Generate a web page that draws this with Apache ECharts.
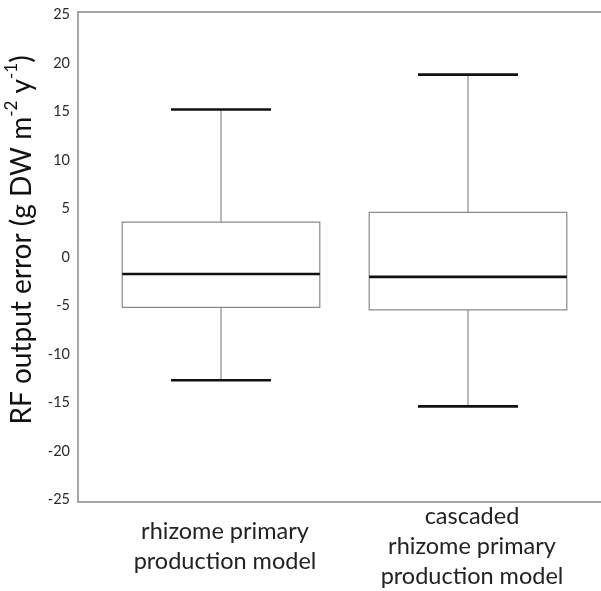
<!DOCTYPE html>
<html>
<head>
<meta charset="utf-8">
<script src="https://cdn.jsdelivr.net/npm/echarts@6/dist/echarts.min.js"></script>
<style>html,body{margin:0;padding:0;background:#fff}#c{width:601px;height:591px}</style>
</head>
<body>
<div id="c"></div>
<script>
const categories = ['rhizome primary\nproduction model', 'cascaded\nrhizome primary\nproduction model'];
const whiskerLow = [-12.7, -15.4];
const quartile1 = [-5.2, -5.45];
const medians = [-1.75, -2.05];
const quartile3 = [3.6, 4.6];
const whiskerHigh = [15.2, 18.8];
const yTicks = { min: -25, max: 25, interval: 5 };

const boxData = categories.map((c, i) => [i, whiskerLow[i], quartile1[i], medians[i], quartile3[i], whiskerHigh[i]]);

const FONT = 'Lato, "Open Sans", sans-serif';
const GRAY = '#8a8a8a';

function renderItem(params, api) {
  const x = api.value(0);
  const pLow = api.coord([x, api.value(1)]);
  const pQ1 = api.coord([x, api.value(2)]);
  const pMed = api.coord([x, api.value(3)]);
  const pQ3 = api.coord([x, api.value(4)]);
  const pHigh = api.coord([x, api.value(5)]);
  const band = api.size([1, 0])[0];
  const bw = band * 0.8;
  const cw = band * 0.405;
  const cx = pMed[0];
  return {
    type: 'group',
    children: [
      { type: 'line', shape: { x1: cx, y1: pQ3[1], x2: cx, y2: pHigh[1] }, style: { stroke: GRAY, lineWidth: 1.2 } },
      { type: 'line', shape: { x1: cx, y1: pQ1[1], x2: cx, y2: pLow[1] }, style: { stroke: GRAY, lineWidth: 1.2 } },
      { type: 'rect', shape: { x: cx - bw / 2, y: pQ3[1], width: bw, height: pQ1[1] - pQ3[1] }, style: { fill: '#fff', stroke: GRAY, lineWidth: 1.2 } },
      { type: 'line', shape: { x1: cx - bw / 2, y1: pMed[1], x2: cx + bw / 2, y2: pMed[1] }, style: { stroke: '#111', lineWidth: 2.6 } },
      { type: 'line', shape: { x1: cx - cw / 2, y1: pHigh[1], x2: cx + cw / 2, y2: pHigh[1] }, style: { stroke: '#111', lineWidth: 2.6 } },
      { type: 'line', shape: { x1: cx - cw / 2, y1: pLow[1], x2: cx + cw / 2, y2: pLow[1] }, style: { stroke: '#111', lineWidth: 2.6 } }
    ]
  };
}

const chart = echarts.init(document.getElementById('c'), null, { renderer: 'canvas' });
chart.setOption({
  animation: false,
  backgroundColor: '#fff',
  grid: [
    { left: 78, top: 12, width: 523, height: 490, outerBoundsMode: 'none', containLabel: false },
    { left: 97.5, top: 14.5, width: 494, height: 485, outerBoundsMode: 'none', containLabel: false }
  ],
  xAxis: [
    { gridIndex: 0, type: 'value', min: 0, max: 1, position: 'bottom',
      axisLine: { show: true, lineStyle: { color: GRAY, width: 1.5 } }, axisTick: { show: false }, axisLabel: { show: false }, splitLine: { show: false } },
    { gridIndex: 0, type: 'value', min: 0, max: 1, position: 'top',
      axisLine: { show: true, lineStyle: { color: GRAY, width: 1.5 } }, axisTick: { show: false }, axisLabel: { show: false }, splitLine: { show: false } },
    { gridIndex: 1, type: 'category', data: categories, boundaryGap: true,
      axisLine: { show: false }, axisTick: { show: false }, splitLine: { show: false },
      axisLabel: { color: '#222', fontFamily: FONT, fontSize: 23.5, lineHeight: 30, margin: 47, verticalAlign: 'middle', align: 'center', interval: 0, padding: [0, 0, 0, 8] } }
  ],
  yAxis: [
    { gridIndex: 0, type: 'value', min: 0, max: 1, position: 'left',
      axisLine: { show: true, lineStyle: { color: GRAY, width: 1.5 } }, axisTick: { show: false }, axisLabel: { show: false }, splitLine: { show: false } },
    { gridIndex: 1, type: 'value', min: yTicks.min, max: yTicks.max, interval: yTicks.interval,
      axisLine: { show: false }, axisTick: { show: false }, splitLine: { show: false },
      axisLabel: { color: '#2a2a2a', fontFamily: FONT, fontSize: 14.5, margin: 27.5 },
      name: 'RF output error (g DW m{sup|-2} y{sup|-1})',
      nameLocation: 'middle', nameGap: 58, nameRotate: 90, nameMoveOverlap: false,
      nameTextStyle: { color: '#111', fontFamily: FONT, fontSize: 28, lineHeight: 36, padding: [0, 0, 0, 34],
        rich: { sup: { fontFamily: FONT, fontSize: 17, lineHeight: 20, verticalAlign: 'top', color: '#111' } } } }
  ],
  series: [
    { type: 'custom', xAxisIndex: 2, yAxisIndex: 1, renderItem: renderItem, data: boxData, encode: { x: 0, y: [1, 2, 3, 4, 5] } }
  ]
});
</script>
</body>
</html>
